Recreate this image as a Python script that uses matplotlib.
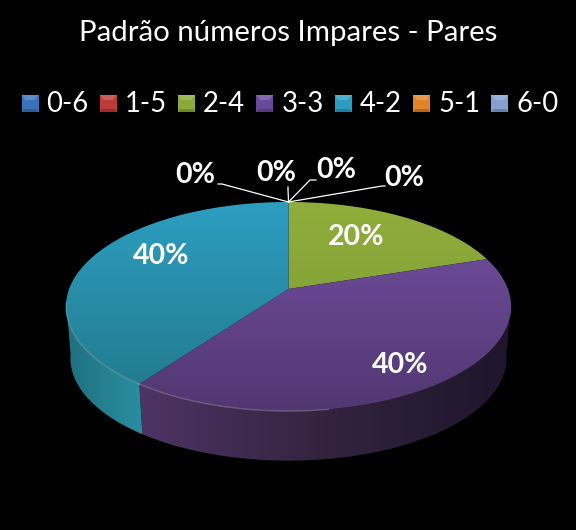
import numpy as np
import matplotlib
matplotlib.use("Agg")
import matplotlib.pyplot as plt
from matplotlib.colors import LinearSegmentedColormap
from matplotlib.patches import Polygon, Rectangle

# Dados do grafico
categorias = ["0-6", "1-5", "2-4", "3-3", "4-2", "5-1", "6-0"]
valores = [0, 0, 20, 40, 40, 0, 0]
rotulos = ["0%", "0%", "20%", "40%", "40%", "0%", "0%"]
titulo = "Padrão números Impares - Pares"

# cores por categoria
cores_legenda = ["#3B72BC", "#BC3A37", "#8AAA3C", "#6A4A98", "#2C9DBE", "#E28428", "#86A0D0"]
cores_topo = {2: ("#90AE3B", "#7A9534"), 3: ("#7550A3", "#513772"), 4: ("#2D9EC1", "#227789")}
cores_lado = {3: ("#4E3465", "#33233F", "#1F152C"), 4: ("#2A8DA3", "#25808F", "#1F7080")}

# posicao dos rotulos e linhas de chamada (cotovelo, fim)
pos_rotulos = {0: (336, 170), 1: (404, 178), 2: (356, 237), 3: (400, 365), 4: (161, 256), 5: (195, 175), 6: (276, 173)}
linhas = {0: [(310, 180), (316, 180)], 1: [(382, 186), (385, 186)], 5: [(222, 184), (218, 184)], 6: [(288, 189), (288, 187)]}

plt.rcParams["font.family"] = ["Lato", "DejaVu Sans"]

fig = plt.figure(figsize=(5.76, 5.30), dpi=100, facecolor="black")
ax = fig.add_axes([0, 0, 1, 1])
ax.set_xlim(0, 576)
ax.set_ylim(530, 0)
ax.axis("off")

# geometria da pizza em perspectiva
CX, CY = 288.5, 289
RX, RY, P = 219.4, 101.6, 0.1675
ESCALA_BASE, DESLOC_BASE = 0.98, 52


def projeta(ang, escala=1.0, dy=0.0):
    u, v = np.sin(ang), np.cos(ang)
    s = 1 / (1 + P * v)
    return CX + escala * RX * u * s, CY + dy - escala * RY * v * s


def gradiente(cores, poligono, extent, horizontal=False, z=2):
    cmap = LinearSegmentedColormap.from_list("g", cores)
    g = np.linspace(0, 1, 256)
    g = g[None, :] if horizontal else g[:, None]
    im = ax.imshow(g, cmap=cmap, extent=extent, aspect="auto", zorder=z, origin="upper")
    patch = Polygon(poligono, closed=True, fc="none", ec="none")
    ax.add_patch(patch)
    im.set_clip_path(patch)


# angulos acumulados a partir do topo, sentido horario
fracoes = np.array(valores) / sum(valores)
limites = np.concatenate([[0], np.cumsum(fracoes)]) * 2 * np.pi

for i, valor in enumerate(valores):
    if valor == 0:
        continue
    a = np.linspace(limites[i], limites[i + 1], 300)
    x_topo, y_topo = projeta(a)

    # lateral visivel: so a parte da frente
    if i in cores_lado:
        frente = (a > np.pi * 0.54) & (a < np.pi * 1.46)
        x_base, y_base = projeta(a, ESCALA_BASE, DESLOC_BASE)
        xs = np.r_[x_topo[frente], x_base[frente][::-1]]
        ys = np.r_[y_topo[frente], y_base[frente][::-1]]
        pts = np.column_stack([xs, ys])
        cores = cores_lado[i] if i == 3 else cores_lado[i][::-1]
        gradiente(cores, pts, (xs.min(), xs.max(), ys.max(), ys.min()), horizontal=True)

    # face superior
    pts = np.column_stack([np.r_[CX, x_topo], np.r_[CY, y_topo]])
    gradiente(cores_topo[i], pts, (60, 520, 411, 202), z=3)

    # brilho na borda da frente
    brilho = (a > np.pi * 0.95) & (a < np.pi * 1.46)
    if brilho.any():
        ax.plot(x_topo[brilho], y_topo[brilho], color="white", alpha=0.25, lw=0.9, zorder=4)

# linhas de chamada das fatias com 0%
for i, pontos in linhas.items():
    ax.plot([CX, pontos[0][0], pontos[1][0]], [202, pontos[0][1], pontos[1][1]], color="white", lw=0.9, zorder=5)

# rotulos de dados
for i, rotulo in enumerate(rotulos):
    x, y = pos_rotulos[i]
    ax.text(x, y, rotulo, color="white", fontsize=20.5, fontweight="bold", ha="center", va="center", zorder=6)

ax.text(288, 32.5, titulo, color="white", fontsize=21.2, ha="center", va="center")

# legenda
for i, (nome, cor) in enumerate(zip(categorias, cores_legenda)):
    x = 21.5 + 78.3 * i
    ax.add_patch(Rectangle((x, 95), 17, 17, fc=cor, ec="none", zorder=2))
    ax.add_patch(Polygon([(x, 95), (x + 17, 95), (x + 13, 100), (x + 4, 100)], fc="white", alpha=0.18, ec="none", zorder=3))
    ax.add_patch(Polygon([(x, 112), (x + 17, 112), (x + 15, 109), (x + 2, 109)], fc="black", alpha=0.2, ec="none", zorder=3))
    ax.text(x + 25, 104.5, nome, color="white", fontsize=19.8, ha="left", va="center")

ax.set_xlim(0, 576)
ax.set_ylim(530, 0)
fig.savefig("out.png", dpi=100, facecolor="black")
